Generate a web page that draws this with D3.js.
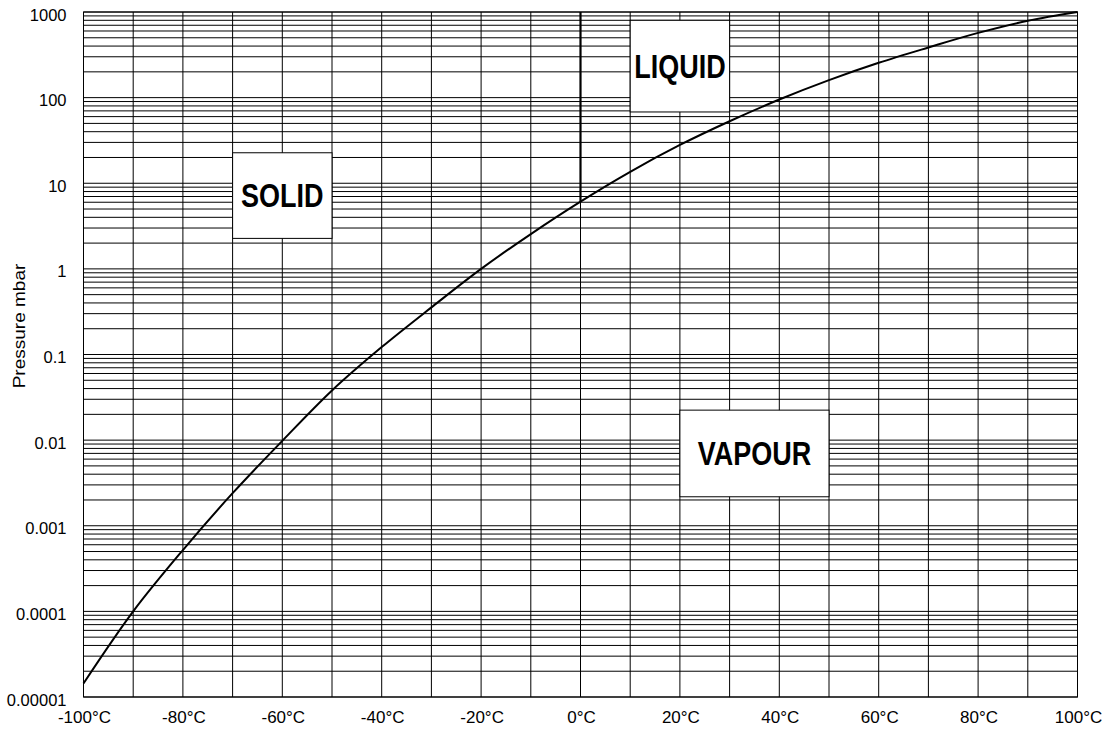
<!DOCTYPE html>
<html>
<head>
<meta charset="utf-8">
<script src="https://cdn.jsdelivr.net/npm/d3@7"></script>
<style>
	body { margin: 0; background: #fff; }
	text { font-family: "Liberation Sans", Arial, sans-serif; }
</style>
</head>
<body>
<div id="chart"></div>
<script>
(function () {
	"use strict";

	var WIDTH = 1105;
	var HEIGHT = 732;
	var LEFT = 83.5, RIGHT = 1077.5, TOP = 12, BOTTOM = 697;

	// vapour pressure curve
	var temperatures = [-100, -90, -80, -70, -60, -50, -40, -30, -20, -10, 0, 10, 20, 30, 40, 50, 60, 70, 80, 90, 100];
	var pressures = [0.0000144, 0.0001, 0.00052, 0.0024, 0.0098, 0.038, 0.122, 0.355, 1.0, 2.55, 6.1, 13.6, 28, 53, 95, 160, 255, 385, 570, 790, 1000];

	// melting line at 0°C
	var meltTemperature = 0;
	var meltPressures = [6.1, 1000];

	var xTicks = [-100, -80, -60, -40, -20, 0, 20, 40, 60, 80, 100];
	var xTickLabels = ['-100°C', '-80°C', '-60°C', '-40°C', '-20°C', '0°C', '20°C', '40°C', '60°C', '80°C', '100°C'];
	var yTicks = [1000, 100, 10, 1, 0.1, 0.01, 0.001, 0.0001, 0.00001];
	var yTickLabels = ['1000', '100', '10', '1', '0.1', '0.01', '0.001', '0.0001', '0.00001'];

	// phase labels: text, temperature span, pressure span
	var phaseNames = ['LIQUID', 'SOLID', 'VAPOUR'];
	var phaseTemps = [[10, 30], [-70, -50], [20, 50]];
	var phasePress = [[68, 800], [2.27, 22.7], [0.00218, 0.0224]];

	var x = d3.scaleLinear().domain([-100, 100]).range([LEFT, RIGHT]);
	var y = d3.scaleLog().domain([0.00001, 1000]).range([BOTTOM, TOP]);

	var svg = d3.select('#chart').append('svg')
		.attr('width', WIDTH)
		.attr('height', HEIGHT);

	// horizontal grid: every minor log step
	svg.append('g').selectAll('line')
		.data(y.ticks())
		.enter()
		.append('line')
		.attr('x1', LEFT).attr('x2', RIGHT)
		.attr('y1', function (d) { return y(d); })
		.attr('y2', function (d) { return y(d); })
		.attr('stroke', '#000')
		.attr('stroke-width', 1);

	// vertical grid: every 10 degrees
	svg.append('g').selectAll('line')
		.data(d3.range(-100, 101, 10))
		.enter()
		.append('line')
		.attr('x1', function (d) { return x(d); })
		.attr('x2', function (d) { return x(d); })
		.attr('y1', TOP).attr('y2', BOTTOM)
		.attr('stroke', '#000')
		.attr('stroke-width', 1);

	svg.append('rect')
		.attr('x', LEFT).attr('y', TOP)
		.attr('width', RIGHT - LEFT).attr('height', BOTTOM - TOP)
		.attr('fill', 'none')
		.attr('stroke', '#000');

	// melting line
	svg.append('line')
		.attr('x1', x(meltTemperature)).attr('x2', x(meltTemperature))
		.attr('y1', y(meltPressures[0])).attr('y2', y(meltPressures[1]))
		.attr('stroke', '#000')
		.attr('stroke-width', 2.2);

	// sublimation / vapour pressure curve
	var points = temperatures.map(function (t, i) { return [t, pressures[i]]; });
	svg.append('path')
		.datum(points)
		.attr('fill', 'none')
		.attr('stroke', '#000')
		.attr('stroke-width', 2)
		.attr('d', d3.line()
			.x(function (d) { return x(d[0]); })
			.y(function (d) { return y(d[1]); })
			.curve(d3.curveCatmullRom));

	// phase boxes
	var phases = svg.append('g').selectAll('g')
		.data(phaseNames)
		.enter()
		.append('g');

	phases.append('rect')
		.attr('x', function (d, i) { return x(phaseTemps[i][0]); })
		.attr('y', function (d, i) { return y(phasePress[i][1]); })
		.attr('width', function (d, i) { return x(phaseTemps[i][1]) - x(phaseTemps[i][0]); })
		.attr('height', function (d, i) { return y(phasePress[i][0]) - y(phasePress[i][1]); })
		.attr('fill', '#fff')
		.attr('stroke', '#000');

	phases.append('text')
		.text(function (d) { return d; })
		.attr('text-anchor', 'middle')
		.attr('font-weight', 'bold')
		.attr('font-size', 27)
		.attr('transform', function (d, i) {
			var cx = (x(phaseTemps[i][0]) + x(phaseTemps[i][1])) / 2;
			var cy = (y(phasePress[i][0]) + y(phasePress[i][1])) / 2;
			return 'translate(' + cx + ',' + (cy + 11.5) + ') scale(1,1.2)';
		});

	// axis labels
	svg.append('g').selectAll('text')
		.data(yTicks)
		.enter()
		.append('text')
		.text(function (d, i) { return yTickLabels[i]; })
		.attr('x', 66.5)
		.attr('y', function (d) { return y(d) + 8.5; })
		.attr('text-anchor', 'end')
		.attr('font-size', 16.5);

	svg.append('g').selectAll('text')
		.data(xTicks)
		.enter()
		.append('text')
		.text(function (d, i) { return xTickLabels[i]; })
		.attr('x', function (d) { return x(d) + 1; })
		.attr('y', 723)
		.attr('text-anchor', 'middle')
		.attr('font-size', 17);

	svg.append('text')
		.text('Pressure mbar')
		.attr('text-anchor', 'middle')
		.attr('font-size', 17)
		.attr('transform', 'translate(25,326) rotate(-90) scale(1.12,1)');
}());
</script>
</body>
</html>
